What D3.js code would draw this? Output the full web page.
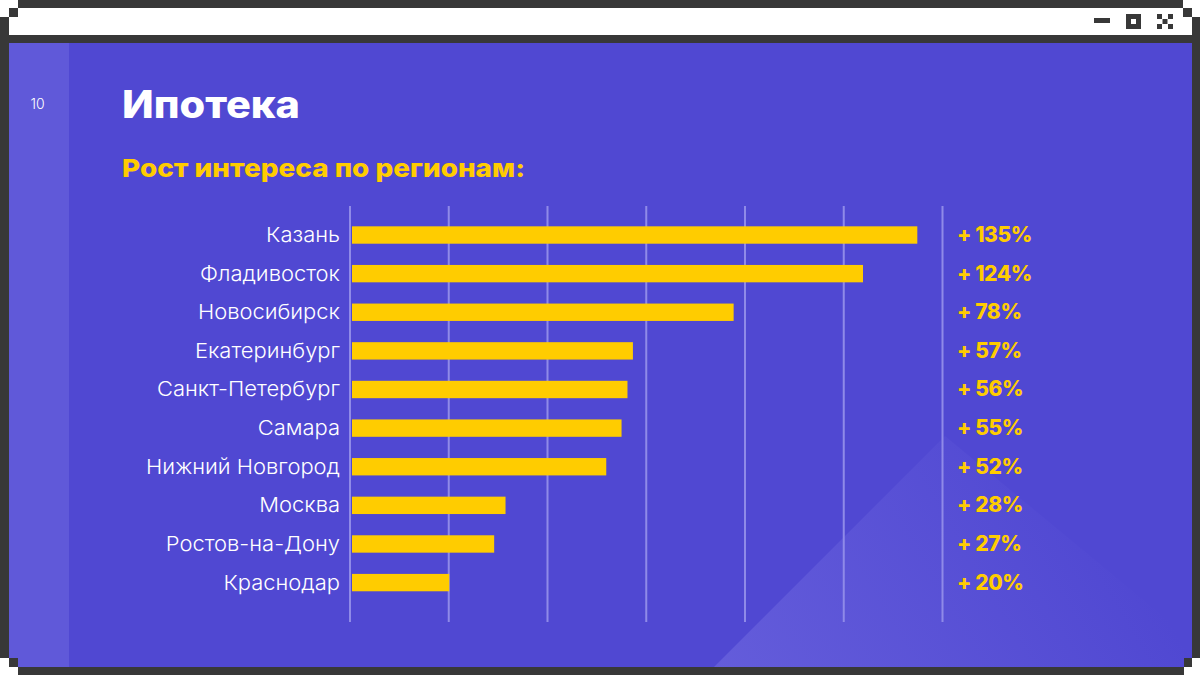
<!DOCTYPE html>
<html>
<head>
<meta charset="utf-8">
<script src="https://cdn.jsdelivr.net/npm/d3@7"></script>
<style>
html, body { margin: 0; padding: 0; background: #fff; }
svg { display: block; }
text { font-family: Inter, "Noto Sans", sans-serif; }
</style>
</head>
<body>
<div id="chart"></div>
<script>
const cities = ["Казань", "Фладивосток", "Новосибирск", "Екатеринбург", "Санкт-Петербург", "Самара", "Нижний Новгород", "Москва", "Ростов-на-Дону", "Краснодар"]
// длина полосы на картинке, в единицах сетки (подпись и длина расходятся у верхних строк)
const barLengths = [115, 104, 77.8, 57.4, 56.3, 55.1, 52, 31.6, 29.3, 20.2]
const growthLabels = [135, 124, 78, 57, 56, 55, 52, 28, 27, 20]
const gridTicks = [0, 20, 40, 60, 80, 100, 120]

const width = 1200, height = 675
const dark = "#383838", yellow = "#ffcc00"

const svg = d3.select("#chart").append("svg")
    .attr("width", width)
    .attr("height", height)

const defs = svg.append("defs")
const grad = defs.append("linearGradient")
    .attr("id", "glow")
    .attr("gradientUnits", "userSpaceOnUse")
    .attr("x1", 730).attr("y1", 680)
    .attr("x2", 1080).attr("y2", 470)
grad.append("stop").attr("offset", 0).attr("stop-color", "#6c65de").attr("stop-opacity", 0.7)
grad.append("stop").attr("offset", 1).attr("stop-color", "#6c65de").attr("stop-opacity", 0)

//окно
svg.append("rect").attr("x", 9).attr("y", 8).attr("width", 1183).attr("height", 27).attr("fill", "#fff")
svg.append("rect").attr("x", 9).attr("y", 43).attr("width", 1183).attr("height", 624).attr("fill", "#5048d2")
svg.append("rect").attr("x", 9).attr("y", 43).attr("width", 60).attr("height", 624).attr("fill", "#6059d9")
svg.append("path")
    .attr("d", "M714,667L945,436L1192,640L1192,667Z")
    .attr("fill", "url(#glow)")

const frame = svg.append("g").attr("fill", dark)
const frameRects = [
    [18, 0, 1165, 8], [9, 35, 1183, 8], [18, 667, 1166, 8],
    [0, 17, 9, 641], [1192, 17, 8, 641],
    [9, 8, 9, 9], [1183, 8, 9, 9], [9, 658, 9, 9], [1184, 658, 8, 9],
    // кнопки окна
    [1094, 18, 16, 5],
    [1126, 14, 5, 15], [1136, 14, 5, 15], [1131, 14, 5, 5], [1131, 24, 5, 5],
    [1157, 14, 5, 5], [1168, 14, 5, 5], [1162.5, 19, 5, 5], [1157, 24, 5, 5], [1168, 24, 5, 5]
]
frame.selectAll("rect")
    .data(frameRects)
    .enter()
    .append("rect")
    .attr("x", d => d[0])
    .attr("y", d => d[1])
    .attr("width", d => d[2])
    .attr("height", d => d[3])

svg.append("text")
    .attr("x", 37.5).attr("y", 109)
    .attr("text-anchor", "middle")
    .attr("font-size", 14)
    .attr("font-weight", 300)
    .attr("fill", "#fff")
    .text("10")

svg.append("text")
    .attr("x", 122).attr("y", 118)
    .attr("font-size", 38)
    .attr("font-weight", 800)
    .attr("fill", "#fff")
    .attr("textLength", 178)
    .attr("lengthAdjust", "spacingAndGlyphs")
    .text("Ипотека")

svg.append("text")
    .attr("x", 122).attr("y", 177)
    .attr("font-size", 25)
    .attr("font-weight", 800)
    .attr("fill", yellow)
    .attr("textLength", 403)
    .attr("lengthAdjust", "spacingAndGlyphs")
    .text("Рост интереса по регионам:")

//шкалы
const x = d3.scaleLinear().domain([0, 120]).range([349.5, 942])
const y = d3.scaleBand().domain(cities).range([215.7, 601.9]).paddingInner(0.55).paddingOuter(0.275)
const barStart = 352

const axis = d3.axisTop(x)
    .tickValues(gridTicks)
    .tickSize(-416)
    .tickFormat("")
const axisG = svg.append("g")
    .attr("transform", "translate(0,206)")
    .call(axis)
axisG.select(".domain").remove()
axisG.selectAll(".tick line")
    .attr("stroke", "#8f8ae8")
    .attr("stroke-width", 2)

svg.append("g")
    .selectAll("rect")
    .data(cities)
    .enter()
    .append("rect")
    .attr("x", barStart)
    .attr("y", d => y(d))
    .attr("width", (d, i) => x(barLengths[i]) - barStart)
    .attr("height", y.bandwidth())
    .attr("fill", yellow)

svg.append("g")
    .selectAll("text")
    .data(cities)
    .enter()
    .append("text")
    .attr("x", 340)
    .attr("y", d => y(d) + y.bandwidth() / 2 + 7)
    .attr("text-anchor", "end")
    .attr("font-size", 20.5)
    .attr("font-weight", 300)
    .attr("fill", "#fff")
    .text(d => d)
    .attr("textLength", function () { return this.getComputedTextLength() * 1.07 })
    .attr("lengthAdjust", "spacingAndGlyphs")

svg.append("g")
    .selectAll("text")
    .data(cities)
    .enter()
    .append("text")
    .attr("x", 957)
    .attr("y", d => y(d) + y.bandwidth() / 2 + 7)
    .attr("font-size", 21)
    .attr("font-weight", 800)
    .attr("letter-spacing", -0.4)
    .attr("fill", yellow)
    .text((d, i) => `+ ${growthLabels[i]}%`)
</script>
</body>
</html>
